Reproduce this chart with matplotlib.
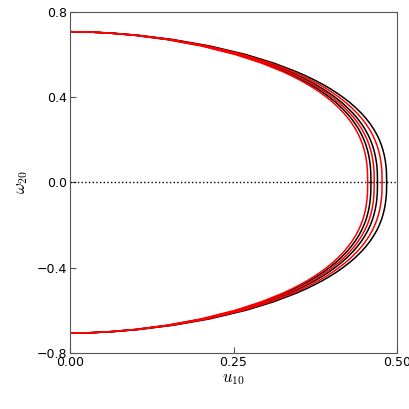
# Amplitude-frequency curves: u10 vs omega20

import numpy as np
import matplotlib
matplotlib.use("Agg")
import matplotlib.pyplot as plt

plt.rcParams['mathtext.fontset'] = 'cm'

# omega_20 levels along the upper branch (lower branch is the mirror image)
omega = [0.707, 0.705, 0.70, 0.69, 0.67, 0.64, 0.60, 0.56, 0.52, 0.50,
         0.48, 0.46, 0.44, 0.42, 0.40, 0.375, 0.35, 0.325, 0.30, 0.275,
         0.25, 0.225, 0.20, 0.175, 0.15, 0.125, 0.10, 0.075, 0.05, 0.0]

# black curves
u_black_1 = [0, 0.0316, 0.0621, 0.0997, 0.1500, 0.2031, 0.2553, 0.2957, 0.3284, 0.3425,
             0.3553, 0.3670, 0.3777, 0.3875, 0.3963, 0.4064, 0.4152, 0.4231, 0.4300, 0.4360,
             0.4412, 0.4456, 0.4493, 0.4524, 0.4548, 0.4567, 0.4581, 0.4591, 0.4597, 0.4600]
u_black_2 = [0, 0.0323, 0.0634, 0.1018, 0.1532, 0.2075, 0.2609, 0.3022, 0.3355, 0.3499,
             0.3630, 0.3750, 0.3859, 0.3959, 0.4050, 0.4152, 0.4243, 0.4323, 0.4394, 0.4455,
             0.4508, 0.4553, 0.4591, 0.4622, 0.4647, 0.4666, 0.4681, 0.4691, 0.4697, 0.4700]
u_black_3 = [0, 0.0333, 0.0653, 0.1049, 0.1578, 0.2137, 0.2686, 0.3112, 0.3455, 0.3604,
             0.3738, 0.3862, 0.3974, 0.4077, 0.4170, 0.4276, 0.4369, 0.4452, 0.4524, 0.4588,
             0.4642, 0.4689, 0.4728, 0.4760, 0.4785, 0.4805, 0.4820, 0.4830, 0.4837, 0.4840]

# red curves
u_red_1 = [0, 0.0313, 0.0614, 0.0986, 0.1483, 0.2009, 0.2525, 0.2925, 0.3248, 0.3388,
           0.3514, 0.3630, 0.3736, 0.3833, 0.3920, 0.4020, 0.4107, 0.4185, 0.4253, 0.4313,
           0.4364, 0.4408, 0.4444, 0.4475, 0.4499, 0.4518, 0.4531, 0.4541, 0.4547, 0.4550]
u_red_2 = [0, 0.0320, 0.0627, 0.1008, 0.1516, 0.2053, 0.2581, 0.2989, 0.3320, 0.3462,
           0.3592, 0.3710, 0.3818, 0.3917, 0.4006, 0.4108, 0.4198, 0.4277, 0.4347, 0.4407,
           0.4460, 0.4504, 0.4542, 0.4573, 0.4597, 0.4617, 0.4631, 0.4641, 0.4647, 0.4650]
u_red_3 = [0, 0.0328, 0.0643, 0.1034, 0.1555, 0.2106, 0.2647, 0.3067, 0.3405, 0.3551,
           0.3684, 0.3806, 0.3917, 0.4018, 0.4110, 0.4214, 0.4306, 0.4387, 0.4459, 0.4521,
           0.4575, 0.4621, 0.4659, 0.4691, 0.4716, 0.4736, 0.4750, 0.4761, 0.4767, 0.4770]

xticks = [0.0, 0.25, 0.5]
xticklabels = ['0.00', '0.25', '0.50']
yticks = [-0.8, -0.4, 0.0, 0.4, 0.8]
yticklabels = ['\u22120.8', '\u22120.4', '0.0', '0.4', '0.8']

fig = plt.figure(figsize=(4.09, 4.09), dpi=100)
ax = fig.add_axes([0.171, 0.137, 0.800, 0.834])

w = np.array(omega)

ax.axhline(0.0, color='black', linestyle=':', linewidth=1.0)

for u in [u_black_1, u_black_2, u_black_3]:
    ax.plot(u, w, color='black', linewidth=1.1)
    ax.plot(u, -w, color='black', linewidth=1.1)
for u in [u_red_1, u_red_2, u_red_3]:
    ax.plot(u, w, color='red', linewidth=1.1)
    ax.plot(u, -w, color='red', linewidth=1.1)

ax.set_xlim(0, 0.5)
ax.set_ylim(-0.8, 0.8)
ax.set_xticks(xticks)
ax.set_xticklabels(xticklabels)
ax.set_yticks(yticks)
ax.set_yticklabels(yticklabels)
ax.tick_params(direction='in', length=4, labelsize=9, pad=2, color='#555555')
for sp in ax.spines.values():
    sp.set_color('#555555')

ax.set_xlabel(r'$u_{10}$', fontsize=12, labelpad=0)
ax.set_ylabel(r'$\omega_{20}$', fontsize=12, labelpad=5)

plt.savefig("out.png", dpi=100)
